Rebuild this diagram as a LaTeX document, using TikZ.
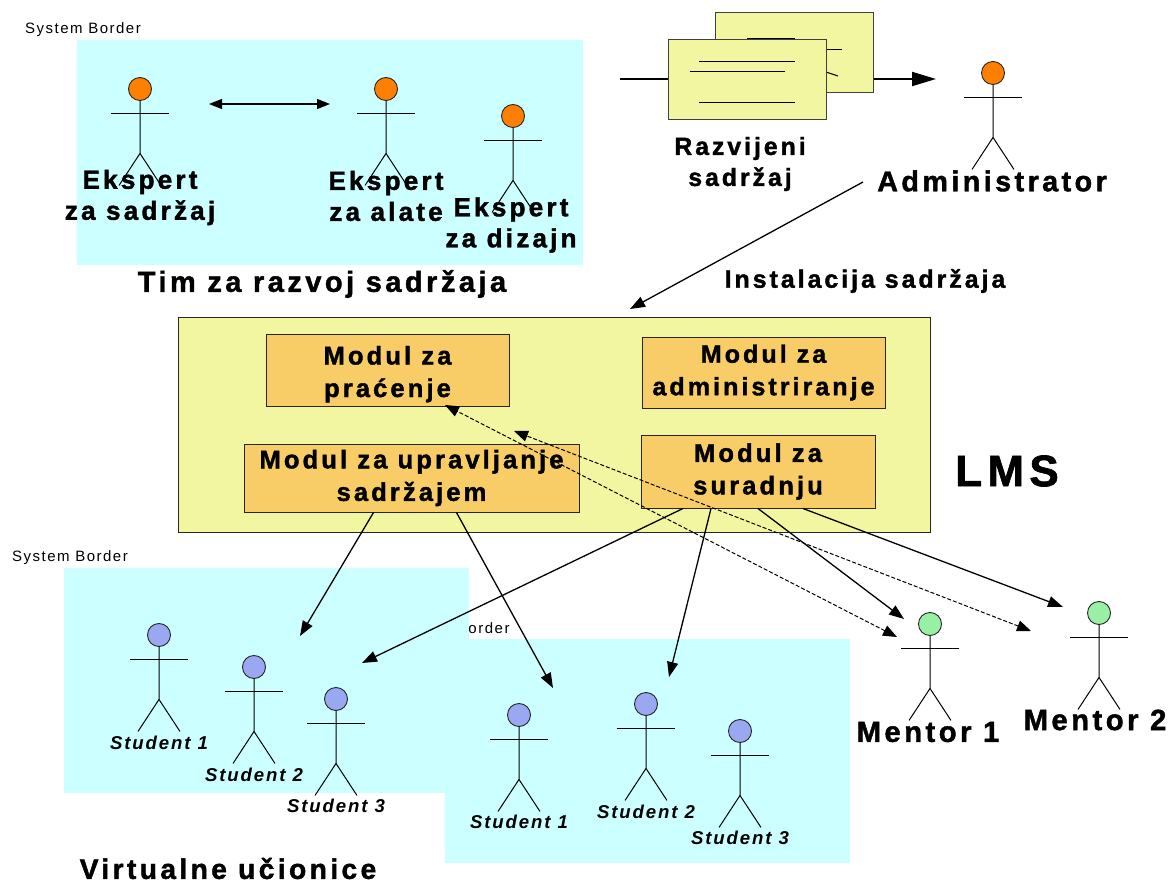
\documentclass[tikz,border=0pt]{standalone}
\usepackage{fontspec}
\setmainfont{Liberation Sans}
\newfontfamily\widefont[LetterSpace=12,BoldFeatures={FakeBold=1.5}]{Liberation Sans}
\newfontfamily\smallfont[LetterSpace=10]{Liberation Sans}
\usepackage{tikz}
\usetikzlibrary{arrows.meta,positioning}
\definecolor{lscyan}{RGB}{204,255,255}
\definecolor{lsyellow}{RGB}{243,246,160}
\definecolor{lsorange}{RGB}{248,204,102}
\definecolor{lshead}{RGB}{255,128,0}
\definecolor{lsblue}{RGB}{153,168,240}
\definecolor{lsgreen}{RGB}{153,240,165}
\tikzstyle{arrow} = [line width=1.3pt,-{Triangle[length=15pt,width=11pt]}]
\tikzstyle{dasharrow} = [line width=1pt,dash pattern=on 4pt off 2pt,{Triangle[length=14pt,width=11pt]}-{Triangle[length=14pt,width=11pt]}]
\tikzstyle{lbl} = [font=\widefont\bfseries\fontsize{26.2}{31}\selectfont, align=center, inner sep=0pt]
\tikzstyle{stlbl} = [font=\smallfont\bfseries\itshape\fontsize{18.6}{20}\selectfont, inner sep=0pt]
\tikzstyle{borderlbl} = [font=\smallfont\fontsize{15}{18}\selectfont, inner sep=0pt]
\tikzstyle{modul} = [rectangle, draw=black!85, line width=1pt, fill=lsorange, inner sep=0pt, font=\widefont\bfseries\fontsize{25.6}{32.5}\selectfont, align=center]
\tikzstyle{dokument} = [rectangle, draw=black!75, line width=1pt, fill=lsyellow, minimum width=158pt, minimum height=80pt, inner sep=0pt]
\tikzstyle{tim} = [rectangle, fill=lscyan, inner sep=0pt]
\tikzstyle{actorhead} = [circle, draw=black!85, line width=0.9pt, minimum size=23pt, inner sep=0pt]
\newcommand{\actor}[4]{
    \node[actorhead, fill=#4] (#1) at (#2,#3) {};
    \draw[line width=1pt] (#1.south) -- ++(0,52.5) -- ++(-21,32);
    \draw[line width=1pt] (#1.south) ++(0,52.5) -- ++(21,32);
    \draw[line width=1pt] (#1.south) ++(-29,12.5) -- ++(58,0);
}

\begin{document}
\begin{tikzpicture}[x=1pt,y=-1pt]
    \useasboundingbox (0,0) rectangle (1170,885);

    % System borders
    \node[tim, minimum width=506pt, minimum height=225pt] (razvoj) at (330,152.5) {};
    \node[tim, minimum width=405pt, minimum height=224pt] (uc2) at (647.5,751) {};
    \node[borderlbl] (uc2lbl) at (489,628) {order};
    \node[tim, minimum width=405pt, minimum height=225pt] (uc1) at (266.5,680.5) {};
    \node[borderlbl] (b1lbl) at (83,29.5) {System Border};
    \node[borderlbl] (b2lbl) at (70,557.5) {System Border};

    % Team
    \actor{eks1}{140}{89}{lshead}
    \actor{eks2}{386}{89}{lshead}
    \actor{eks3}{513}{116}{lshead}
    \actor{adm}{993}{73}{lshead}
    \coordinate (par1) at (209,104);
    \coordinate (par2) at (330,104);
    \draw[line width=1.3pt,{Triangle[length=13pt,width=10pt]}-{Triangle[length=13pt,width=10pt]}] (par1) -- (par2);
    \node[lbl] (eks1lbl) at (140,197.5) {Ekspert\\za sadržaj};
    \node[lbl] (eks2lbl) at (386,196) {Ekspert\\za alate};
    \node[lbl] (eks3lbl) at (511,225) {Ekspert\\za dizajn};
    \node[lbl, font=\widefont\bfseries\fontsize{29}{31}\selectfont] (timlbl) at (322,284) {Tim za razvoj sadržaja};

    % Content
    \coordinate (sadin) at (620,79);
    \coordinate (sadout) at (936,79);
    \draw[line width=2pt,-{Triangle[length=24pt,width=14pt]}] (sadin) -- (sadout);
    \node[dokument] (doc2) at (794,53) {};
    \draw[line width=1pt] (747,39) -- (795,39);
    \draw[line width=1pt] (826,50) -- (842,50);
    \draw[line width=1pt] (826,72) -- (838,76);
    \node[dokument] (doc1) at (747,80) {};
    \draw[line width=1pt] (699,62) -- (795,62);
    \draw[line width=1pt] (690,72) -- (785,72);
    \draw[line width=1pt] (699,103) -- (795,103);
    \node[lbl, font=\widefont\bfseries\fontsize{24.8}{31}\selectfont] (sadlbl) at (740,164) {Razvijeni\\sadržaj};
    \node[lbl, font=\widefont\bfseries\fontsize{28.7}{31}\selectfont] (admlbl) at (992,181) {Administrator};
    \node[lbl, font=\widefont\bfseries\fontsize{24.9}{26}\selectfont] (instlbl) at (865,281) {Instalacija sadržaja};

    % LMS
    \node[rectangle, draw=black!85, line width=1pt, fill=lsyellow, minimum width=752pt, minimum height=214pt] (lms) at (554,425) {};
    \node[modul, minimum width=243pt, minimum height=71pt, text depth=0pt] (prac) at (387.5,370.5) {\raisebox{-2pt}{Modul za}\\\raisebox{-2pt}{praćenje}};
    \node[modul, minimum width=243pt, minimum height=71pt, font=\widefont\bfseries\fontsize{25.1}{32.5}\selectfont] (admod) at (763.5,372.5) {\raisebox{-2pt}{Modul za}\\\raisebox{-2pt}{administriranje}};
    \node[modul, minimum width=335pt, minimum height=68pt] (upr) at (411.5,478) {\raisebox{-1pt}{Modul za upravljanje}\\\raisebox{-1pt}{sadržajem}};
    \node[modul, minimum width=234pt, minimum height=73pt] (sur) at (758,471.5) {\raisebox{-2pt}{Modul za}\\\raisebox{-2pt}{suradnju}};
    \node[lbl, font=\widefont\bfseries\fontsize{44}{50}\selectfont] (lmslbl) at (1007,471) {LMS};
    \coordinate (instfrom) at (863,182);
    \coordinate (instto) at (630,309);
    \draw[arrow] (instfrom) -- (instto);

    % Students
    \actor{st1}{159}{635}{lsblue}
    \actor{st2}{254}{667}{lsblue}
    \actor{st3}{336}{699}{lsblue}
    \actor{st4}{519}{715}{lsblue}
    \actor{st5}{646}{704}{lsblue}
    \actor{st6}{740}{731}{lsblue}
    \node[stlbl] (st1lbl) at (159,743) {Student 1};
    \node[stlbl] (st2lbl) at (254,775) {Student 2};
    \node[stlbl] (st3lbl) at (336,806) {Student 3};
    \node[stlbl] (st4lbl) at (519,822) {Student 1};
    \node[stlbl] (st5lbl) at (646,812) {Student 2};
    \node[stlbl] (st6lbl) at (740,838) {Student 3};
    \node[lbl, font=\widefont\bfseries\fontsize{28.2}{31}\selectfont] (uclbl) at (228,868.5) {Virtualne učionice};

    % Mentors
    \actor{men1}{930}{624}{lsgreen}
    \actor{men2}{1099}{613}{lsgreen}
    \node[lbl, font=\widefont\bfseries\fontsize{29.2}{31}\selectfont] (men1lbl) at (928,732) {Mentor 1};
    \node[lbl, font=\widefont\bfseries\fontsize{29.2}{31}\selectfont] (men2lbl) at (1095,720) {Mentor 2};

    % Arrows
    \coordinate (toA) at (300,636);
    \coordinate (toB) at (553,688);
    \coordinate (toC) at (362,663);
    \coordinate (toD) at (669,677);
    \coordinate (toE) at (904,619);
    \coordinate (toF) at (1063,607);
    \coordinate (dashA) at (897,637);
    \coordinate (dashB) at (1031,631);
    \coordinate (dashC) at (445,405);
    \coordinate (dashD) at (514,431);
    \draw[arrow] ([xshift=-38pt]upr.south) -- (toA);
    \draw[arrow] ([xshift=45pt]upr.south) -- (toB);
    \draw[arrow] ([xshift=-75pt]sur.south) -- (toC);
    \draw[arrow] ([xshift=-47pt]sur.south) -- (toD);
    \draw[arrow] (sur.south) -- (toE);
    \draw[arrow] ([xshift=45pt]sur.south) -- (toF);
    \draw[dasharrow] (dashA) -- (dashC);
    \draw[dasharrow] (dashB) -- (dashD);
\end{tikzpicture}
\end{document}
